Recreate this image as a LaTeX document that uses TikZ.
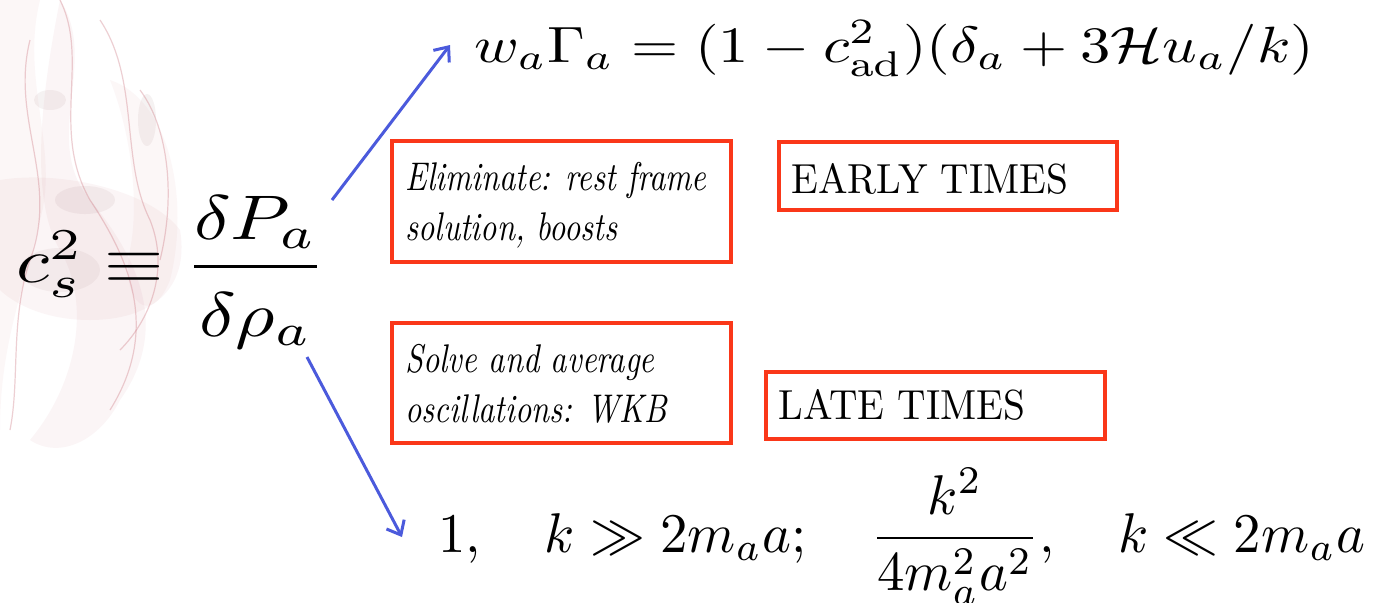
\documentclass[tikz,border=0pt]{standalone}
\usepackage{amsmath}
\usepackage{graphicx}
\usetikzlibrary{arrows.meta}
\definecolor{boxred}{RGB}{250,55,25}
\definecolor{arrblue}{RGB}{75,90,220}
\definecolor{smoke}{RGB}{205,120,130}
\definecolor{smokedark}{RGB}{140,95,100}
\begin{document}
\begin{tikzpicture}[x=0.5pt,y=-0.5pt,
  redbox/.style={draw=boxred, line width=2pt, inner sep=0pt},
  arr/.style={draw=arrblue, line width=1.5pt, -{Straight Barb[length=6pt,width=10pt,line width=1.5pt]}},
  txt/.style={inner sep=0pt, anchor=base west, font=\fontsize{10}{12.5}\selectfont},
  wisp/.style={draw=smoke, line width=0.6pt, opacity=0.35}]
\useasboundingbox (0,0) rectangle (1376,602);
\fill[white] (0,0) rectangle (1376,602);
% smoke decoration
\begin{scope}
\fill[smoke, opacity=0.06] (40,0) .. controls (20,80) and (60,150) .. (40,220) .. controls (20,300) and (0,350) .. (0,430) -- (0,0) -- cycle;
\fill[smoke, opacity=0.07] (60,0) .. controls (100,60) and (40,140) .. (90,200) .. controls (140,260) and (170,330) .. (120,400) .. controls (100,440) and (60,460) .. (30,440) .. controls (80,380) and (90,300) .. (60,250) .. controls (30,200) and (40,100) .. (60,0) -- cycle;
\fill[smoke, opacity=0.06] (110,80) .. controls (170,100) and (190,200) .. (170,280) .. controls (150,330) and (120,300) .. (130,250) .. controls (140,200) and (130,130) .. (110,80) -- cycle;
\fill[smoke, opacity=0.07] (0,180) .. controls (60,170) and (150,190) .. (180,230) .. controls (190,290) and (150,320) .. (90,320) .. controls (40,320) and (10,300) .. (0,290) -- cycle;
\fill[smokedark, opacity=0.08] (50,100) ellipse (16 and 10);
\fill[smokedark, opacity=0.08] (147,120) ellipse (9 and 26);
\fill[smokedark, opacity=0.08] (85,200) ellipse (30 and 14);
\fill[smokedark, opacity=0.07] (60,270) ellipse (40 and 22);
\draw[wisp] (60,0) .. controls (90,60) and (50,130) .. (90,200) .. controls (130,260) and (160,330) .. (110,410);
\draw[wisp] (100,20) .. controls (140,80) and (120,160) .. (150,220) .. controls (170,270) and (150,320) .. (120,350);
\draw[wisp] (30,40) .. controls (10,120) and (60,180) .. (30,260) .. controls (10,320) and (20,380) .. (10,430);
\draw[wisp] (140,90) .. controls (170,130) and (175,200) .. (160,260);
\end{scope}
% main equation
\node[txt] (lhs) at (16,282)
  {\scalebox{3.81}[3.15]{$c_s^2\equiv\dfrac{\delta P_a}{\rule{0pt}{0.97em}\delta\rho_a}$}};
% top result
\node[txt] (top) at (474,62)
  {\scalebox{3.03}[2.55]{$w_a\Gamma_a=(1-c_{\mathrm{ad}}^2)(\delta_a+3\mathcal{H}u_a/k)$}};
% bottom result
\node[txt] (bot) at (438,552)
  {\scalebox{2.74}[2.8]{$1,\quad k\gg 2m_aa;\quad \dfrac{k^2}{4m_a^2a^2},\quad k\ll 2m_aa$}};
% boxes
\node[redbox, minimum width=169.5pt, minimum height=60.5pt, anchor=north west] (b1) at (390,139) {};
\node[redbox, minimum width=169pt, minimum height=34pt, anchor=north west] (b2) at (777,140) {};
\node[redbox, minimum width=169.5pt, minimum height=60pt, anchor=north west] (b3) at (390,321) {};
\node[redbox, minimum width=169.5pt, minimum height=33.5pt, anchor=north west] (b4) at (764,370) {};
\node[txt] (t1) at (405,190) {\scalebox{1.6}[2.0]{\itshape\begin{tabular}[t]{@{}l@{}}Eliminate: rest frame\\solution, boosts\end{tabular}}};
\node[txt] (t2) at (791,193) {\scalebox{1.97}[2.1]{EARLY TIMES}};
\node[txt] (t3) at (405,372) {\scalebox{1.6}[2.0]{\itshape\begin{tabular}[t]{@{}l@{}}Solve and average\\oscillations: WKB\end{tabular}}};
\node[txt] (t4) at (778,419) {\scalebox{1.97}[2.1]{LATE TIMES}};
% arrows
\coordinate (us) at (332,200);
\coordinate (ue) at (450,45);
\coordinate (ls) at (307,357);
\coordinate (le) at (402,537);
\draw[arr] (us) -- (ue);
\draw[arr] (ls) -- (le);
\end{tikzpicture}
\end{document}
